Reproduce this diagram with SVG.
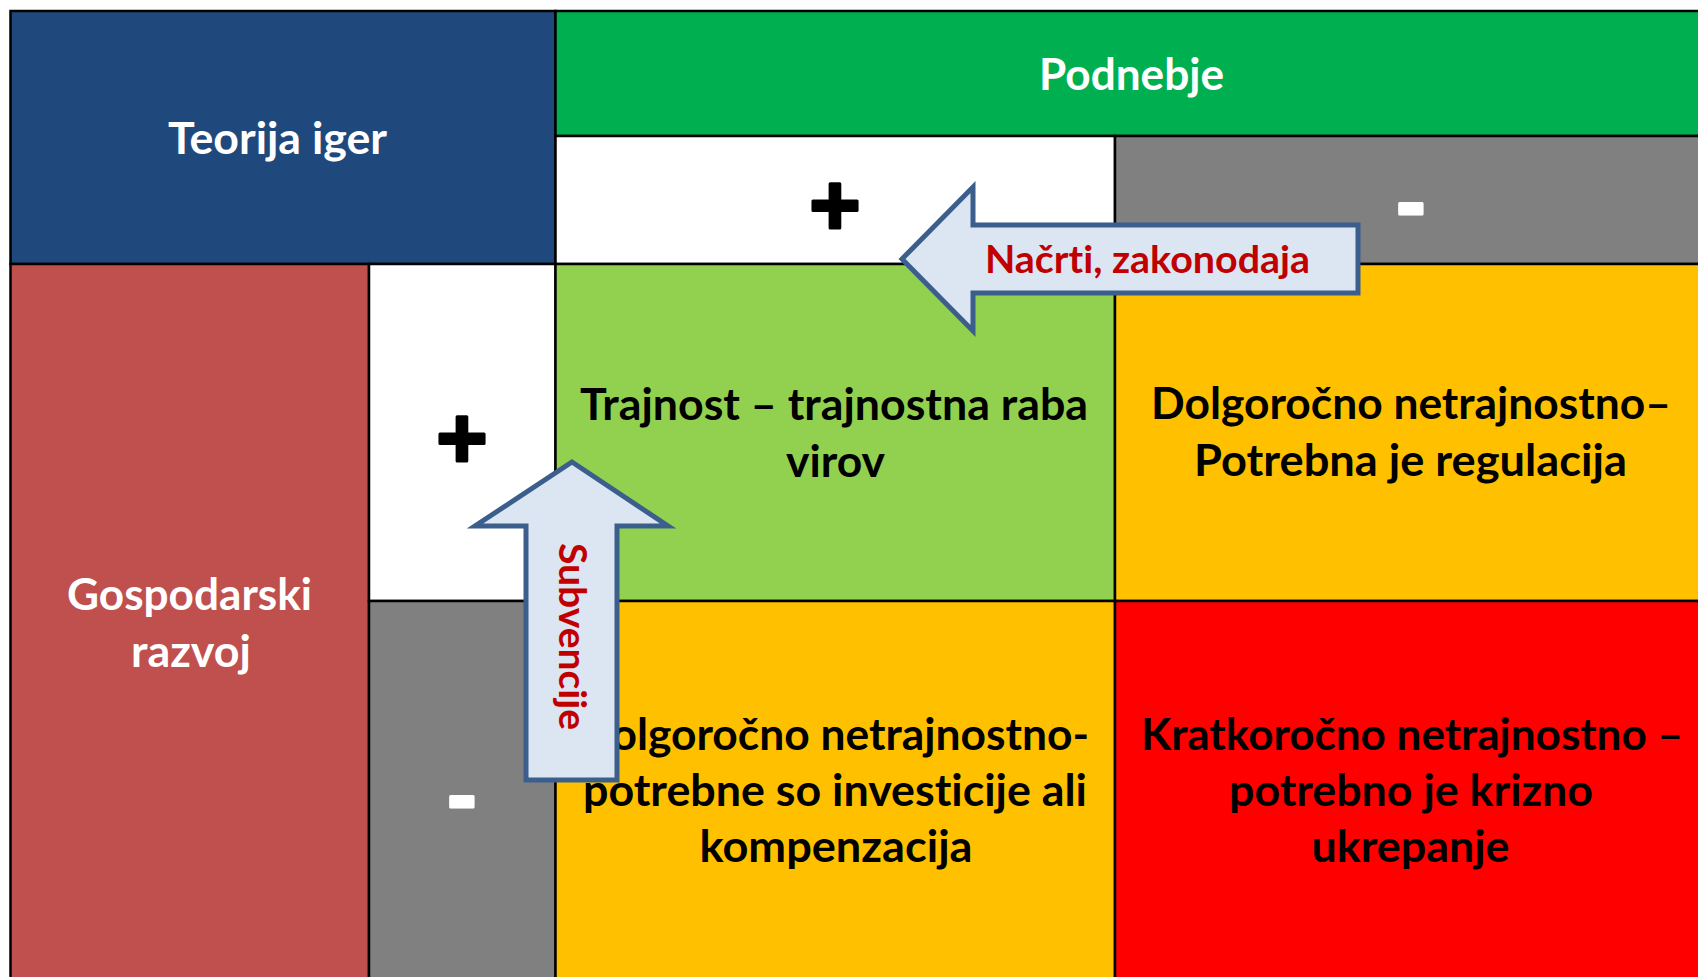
<svg xmlns="http://www.w3.org/2000/svg" width="1698" height="977" viewBox="0 0 1698 977">
  <style>
    .cell { stroke: #000000; stroke-width: 2.5; }
    .t { font-family: "Lato", "Liberation Sans", sans-serif; font-weight: bold; text-anchor: middle; font-variant-ligatures: none; }
    .hdr { font-size: 44px; fill: #FFFFFF; }
    .body { font-size: 44px; fill: #000000; }
    .sign { font-family: "Liberation Sans", "Arial", sans-serif; font-weight: bold; text-anchor: middle; font-size: 88px; stroke-width: 3; stroke-linejoin: round; }
    .plus { fill: #000000; stroke: #000000; }
    .minus { fill: #FFFFFF; stroke: #FFFFFF; }
    .arrow { fill: #DCE6F2; stroke: #3B5E8C; stroke-width: 5; }
    .alabel { font-size: 38px; fill: #C00000; }
  </style>
  <rect x="0" y="0" width="1698" height="977" fill="#FFFFFF"/>

  <g id="teorija-iger">
    <rect class="cell" x="10.5" y="11" width="545" height="253" fill="#1F497D"/>
    <text class="t hdr" x="277.5" y="154" textLength="219" lengthAdjust="spacingAndGlyphs">Teorija iger</text>
  </g>

  <g id="podnebje">
    <rect class="cell" x="555.5" y="11" width="1160" height="125" fill="#00B050"/>
    <text class="t hdr" x="1131.5" y="90" textLength="185" lengthAdjust="spacingAndGlyphs">Podnebje</text>
  </g>

  <g id="podnebje-plus">
    <rect class="cell" x="555.5" y="136" width="559.5" height="128" fill="#FFFFFF"/>
    <text class="sign plus" x="835" y="235">+</text>
  </g>

  <g id="podnebje-minus">
    <rect class="cell" x="1115" y="136" width="600" height="128" fill="#808080"/>
    <text class="sign minus" x="1411" y="231">-</text>
  </g>

  <g id="gospodarski-razvoj">
    <rect class="cell" x="10.5" y="264" width="358.5" height="730" fill="#C0504D"/>
    <text class="t hdr" x="189.5" y="610" textLength="245" lengthAdjust="spacingAndGlyphs">Gospodarski</text>
    <text class="t hdr" x="191" y="667" textLength="120" lengthAdjust="spacingAndGlyphs">razvoj</text>
  </g>

  <g id="razvoj-plus">
    <rect class="cell" x="369" y="264" width="186.5" height="337" fill="#FFFFFF"/>
    <text class="sign plus" x="462" y="468">+</text>
  </g>

  <g id="razvoj-minus">
    <rect class="cell" x="369" y="601" width="186.5" height="390" fill="#808080"/>
    <text class="sign minus" x="462" y="824">-</text>
  </g>

  <g id="trajnost">
    <rect class="cell" x="555.5" y="264" width="559.5" height="337" fill="#92D050"/>
    <text class="t body" x="834" y="420" textLength="508" lengthAdjust="spacingAndGlyphs">Trajnost – trajnostna raba</text>
    <text class="t body" x="835.5" y="477" textLength="99" lengthAdjust="spacingAndGlyphs">virov</text>
  </g>

  <g id="regulacija">
    <rect class="cell" x="1115" y="264" width="600" height="337" fill="#FFC000"/>
    <text class="t body" x="1411" y="419" textLength="520" lengthAdjust="spacingAndGlyphs">Dolgoročno netrajnostno–</text>
    <text class="t body" x="1410.5" y="476" textLength="433" lengthAdjust="spacingAndGlyphs">Potrebna je regulacija</text>
  </g>

  <g id="investicije">
    <rect class="cell" x="555.5" y="601" width="559.5" height="390" fill="#FFC000"/>
    <text class="t body" x="833.5" y="750" textLength="511" lengthAdjust="spacingAndGlyphs">Dolgoročno netrajnostno-</text>
    <text class="t body" x="835" y="806" textLength="504" lengthAdjust="spacingAndGlyphs">potrebne so investicije ali</text>
    <text class="t body" x="836" y="862" textLength="273" lengthAdjust="spacingAndGlyphs">kompenzacija</text>
  </g>

  <g id="krizno-ukrepanje">
    <rect class="cell" x="1115" y="601" width="600" height="390" fill="#FF0000"/>
    <text class="t body" x="1412" y="750" textLength="542" lengthAdjust="spacingAndGlyphs">Kratkoročno netrajnostno –</text>
    <text class="t body" x="1411" y="806" textLength="364" lengthAdjust="spacingAndGlyphs">potrebno je krizno</text>
    <text class="t body" x="1410.5" y="862" textLength="198" lengthAdjust="spacingAndGlyphs">ukrepanje</text>
  </g>

  <g id="connectors">
    <g id="arrow-nacrti">
      <polygon class="arrow" points="902,259 973,187 973,225 1358,225 1358,293 973,293 973,331"/>
      <text class="t alabel" x="1147.5" y="273" textLength="325" lengthAdjust="spacingAndGlyphs">Načrti, zakonodaja</text>
    </g>
    <g id="arrow-subvencije">
      <polygon class="arrow" points="572,462 668,526 617,526 617,780 526,780 526,526 475,526"/>
      <text class="t alabel" transform="translate(559,636.5) rotate(90)" x="0" y="0" textLength="187" lengthAdjust="spacingAndGlyphs">Subvencije</text>
    </g>
  </g>
</svg>
